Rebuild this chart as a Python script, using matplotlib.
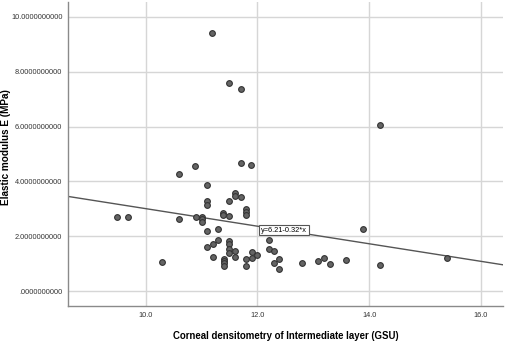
import matplotlib
matplotlib.use("Agg")
import matplotlib.pyplot as plt
from matplotlib.ticker import FuncFormatter

plt.rcParams['font.family'] = ['Liberation Sans', 'DejaVu Sans']

# corneal densitometry (GSU), intermediate layer
density = [11.19, 11.49, 11.70, 10.89, 11.70, 11.89, 14.19,
           9.49, 9.69, 10.30, 13.89, 13.59, 14.19, 15.39,
           10.59, 11.09, 11.09, 11.09, 11.59, 11.59, 11.70, 11.49,
           11.39, 11.39, 11.49, 11.80, 11.80, 11.80, 10.59, 10.90,
           11.00, 11.00, 11.00, 11.09, 11.30, 11.09, 11.20, 11.30,
           11.49, 11.49, 11.49, 11.49, 11.59, 11.59, 11.20,
           11.40, 11.40, 11.40, 11.40, 11.80, 11.80, 11.90, 11.90,
           11.99, 12.20, 12.20, 12.30, 12.30, 12.39, 12.39,
           12.80, 13.09, 13.19, 13.29]
# elastic modulus E (MPa)
modulus = [9.40, 7.60, 7.37, 4.56, 4.68, 4.59, 6.06,
           2.70, 2.70, 1.07, 2.28, 1.14, 0.95, 1.22,
           4.26, 3.87, 3.30, 3.14, 3.57, 3.47, 3.42, 3.27,
           2.86, 2.78, 2.74, 3.00, 2.90, 2.78, 2.62, 2.72,
           2.72, 2.62, 2.51, 2.19, 2.26, 1.62, 1.72, 1.86,
           1.82, 1.72, 1.55, 1.41, 1.47, 1.24, 1.24,
           1.19, 1.10, 1.02, 0.93, 1.17, 0.91, 1.44, 1.20,
           1.32, 1.87, 1.55, 1.48, 1.02, 1.18, 0.82,
           1.02, 1.11, 1.20, 0.99]

intercept = 6.21
slope = -0.32
fit_label = "y=6.21-0.32*x"

xticks = [10.0, 12.0, 14.0, 16.0]
yticks = [0, 2, 4, 6, 8, 10]

fig = plt.figure(figsize=(5.05, 3.43), dpi=100)
ax = fig.add_axes([0.1347, 0.108, 0.861, 0.886])

ax.set_xlim(8.61, 16.39)
ax.set_ylim(-0.535, 10.535)
ax.set_xticks(xticks)
ax.set_yticks(yticks)
ax.grid(True, color='#d6d6d6', linewidth=1.0)
ax.set_axisbelow(True)

ax.scatter(density, modulus, s=17, color='#646464', edgecolor='#333333',
           linewidth=0.8, zorder=3)

xs = [8.61, 16.39]
ax.plot(xs, [intercept + slope * v for v in xs], color='#555555', lw=1.0, zorder=2)
ax.text(12.06, 2.23, fit_label, fontsize=5.3, va='center', ha='left', zorder=4,
        bbox=dict(boxstyle='square,pad=0.25', fc='white', ec='#555555', lw=0.8))

ax.xaxis.set_major_formatter(FuncFormatter(lambda v, p: "%.1f" % v))
ax.yaxis.set_major_formatter(FuncFormatter(
    lambda v, p: ("%.10f" % v).lstrip('0') if v == 0 else "%.10f" % v))
ax.tick_params(length=0, labelsize=5.3, colors='#333333', pad=4)
for s in ['top', 'right']:
    ax.spines[s].set_visible(False)
for s in ['left', 'bottom']:
    ax.spines[s].set_color('#8a8a8a')
    ax.spines[s].set_linewidth(1.0)

ax.set_xlabel("Corneal densitometry of Intermediate layer (GSU)", fontsize=6.9,
              fontweight='bold', labelpad=9)
fig.text(0.012, 0.57, "Elastic modulus E (MPa)", rotation=90, fontsize=7.2,
         fontweight='bold', va='center', ha='center')

fig.savefig("out.png", dpi=100)
